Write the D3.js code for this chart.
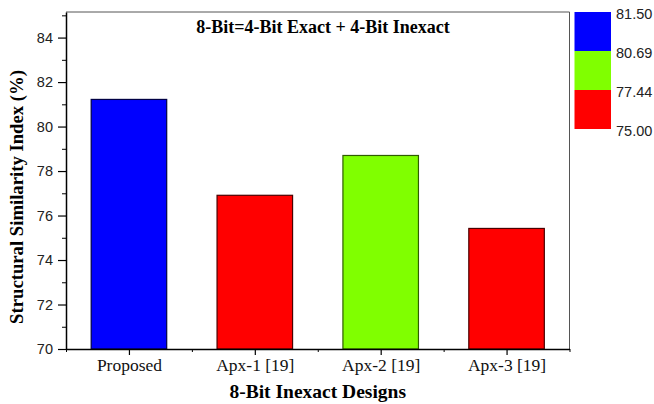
<!DOCTYPE html>
<html>
<head>
<meta charset="utf-8">
<script src="https://cdn.jsdelivr.net/npm/d3@7"></script>
<style>
  html, body { margin: 0; padding: 0; background: #fff; }
  svg { display: block; }
</style>
</head>
<body>
<svg id="chart" width="654" height="404"></svg>
<script>
// Structural similarity index of 8-bit inexact designs
const designs = ["Proposed", "Apx-1 [19]", "Apx-2 [19]", "Apx-3 [19]"];
const ssimValues = [81.22, 76.91, 78.70, 75.42];
const yTicks = [70, 72, 74, 76, 78, 80, 82, 84];
const yMinorTicks = [71, 73, 75, 77, 79, 81, 83, 85];
const levelBounds = [75.00, 77.44, 80.69, 81.50];
const levelColors = ["#ff0000", "#80ff00", "#0000ff"];
const levelStrokes = ["#4a0000", "#2f5c00", "#000044"];

const svg = d3.select("#chart");
const m = { left: 66, right: 569.5, top: 12, bottom: 349 };

const x = d3.scaleLinear().domain([0.5, designs.length + 0.5]).range([m.left, m.right]);
const y = d3.scaleLinear().domain([70, 85.15]).range([m.bottom, m.top]);
const colorOf = d3.scaleThreshold().domain(levelBounds.slice(1, 3)).range(levelColors);
const strokeOf = d3.scaleThreshold().domain(levelBounds.slice(1, 3)).range(levelStrokes);

const barW = 0.6;
const serif = "'Liberation Serif', 'Times New Roman', serif";
const sans = "'Liberation Sans', Arial, sans-serif";

// bars
svg.append("g").selectAll("rect")
  .data(designs.map((d, i) => ({ name: d, i: i + 1, v: ssimValues[i] })))
  .join("rect")
  .attr("x", d => x(d.i - barW / 2))
  .attr("width", d => x(d.i + barW / 2) - x(d.i - barW / 2))
  .attr("y", d => y(d.v))
  .attr("height", d => y(70) - y(d.v))
  .attr("fill", d => colorOf(d.v))
  .attr("stroke", d => strokeOf(d.v))
  .attr("stroke-width", 1.2);

// frame: top and right
svg.append("line").attr("x1", m.left).attr("x2", m.right).attr("y1", m.top).attr("y2", m.top)
  .attr("stroke", "#555").attr("stroke-width", 1);
svg.append("line").attr("x1", m.right).attr("x2", m.right).attr("y1", m.top).attr("y2", m.bottom)
  .attr("stroke", "#555").attr("stroke-width", 1);

// y axis
const yAxis = svg.append("g").attr("transform", `translate(${m.left},0)`)
  .call(d3.axisLeft(y).tickValues(yTicks).tickSize(8).tickSizeOuter(0).tickFormat(d3.format("d")));
yAxis.select(".domain").attr("stroke", "#000").attr("stroke-width", 1.5);
yAxis.selectAll(".tick line").attr("stroke", "#000").attr("stroke-width", 1.2);
yAxis.selectAll(".tick text")
  .attr("font-family", sans)
  .attr("font-size", 14.5).attr("fill", "#222").attr("x", -13);
svg.append("g").attr("transform", `translate(${m.left},0)`)
  .call(d3.axisLeft(y).tickValues(yMinorTicks).tickSize(4).tickFormat(""))
  .call(g => g.select(".domain").remove())
  .call(g => g.selectAll(".tick line").attr("stroke", "#000").attr("stroke-width", 1));

// x axis
const xAxis = svg.append("g").attr("transform", `translate(0,${m.bottom})`)
  .call(d3.axisBottom(x).tickValues(d3.range(1, designs.length + 1)).tickSize(6).tickSizeOuter(0)
    .tickFormat(i => designs[i - 1]));
xAxis.select(".domain").attr("stroke", "#000").attr("stroke-width", 1.5);
xAxis.selectAll(".tick line").attr("stroke", "#000").attr("stroke-width", 1.2);
xAxis.selectAll(".tick text")
  .attr("font-family", serif)
  .attr("font-size", 17.5).attr("fill", "#111").attr("y", 10);
svg.append("g").attr("transform", `translate(0,${m.bottom})`)
  .call(d3.axisBottom(x).tickValues(d3.range(0.5, designs.length + 1, 1)).tickSize(3).tickFormat(""))
  .call(g => g.select(".domain").remove())
  .call(g => g.selectAll(".tick line").attr("stroke", "#000").attr("stroke-width", 1));

// titles
svg.append("text")
  .attr("x", 323).attr("y", 33)
  .attr("text-anchor", "middle")
  .attr("font-family", serif)
  .attr("font-weight", "bold").attr("font-size", 18)
  .text("8-Bit=4-Bit Exact + 4-Bit Inexact");

svg.append("text")
  .attr("x", (m.left + m.right) / 2).attr("y", 398)
  .attr("text-anchor", "middle")
  .attr("font-family", serif)
  .attr("font-weight", "bold").attr("font-size", 19.5)
  .text("8-Bit Inexact Designs");

svg.append("text")
  .attr("transform", "translate(23,197) rotate(-90)")
  .attr("text-anchor", "middle")
  .attr("font-family", serif)
  .attr("font-weight", "bold").attr("font-size", 18.7)
  .text("Structural Similarity Index (%)");

// colour key
const key = svg.append("g");
const cy = d3.scalePoint().domain(levelBounds.slice().reverse()).range([12, 129]);
const topDown = levelBounds.slice().reverse();
key.selectAll("rect")
  .data(d3.range(levelColors.length))
  .join("rect")
  .attr("x", 574.5).attr("width", 36.5)
  .attr("y", k => cy(levelBounds[k + 1]))
  .attr("height", k => cy(levelBounds[k]) - cy(levelBounds[k + 1]))
  .attr("fill", k => levelColors[k]);
key.selectAll("text")
  .data(topDown)
  .join("text")
  .attr("x", 616).attr("y", v => cy(v) + 6.5)
  .attr("font-family", sans)
  .attr("font-size", 14.5).attr("fill", "#222")
  .text(v => d3.format(".2f")(v));
</script>
</body>
</html>
